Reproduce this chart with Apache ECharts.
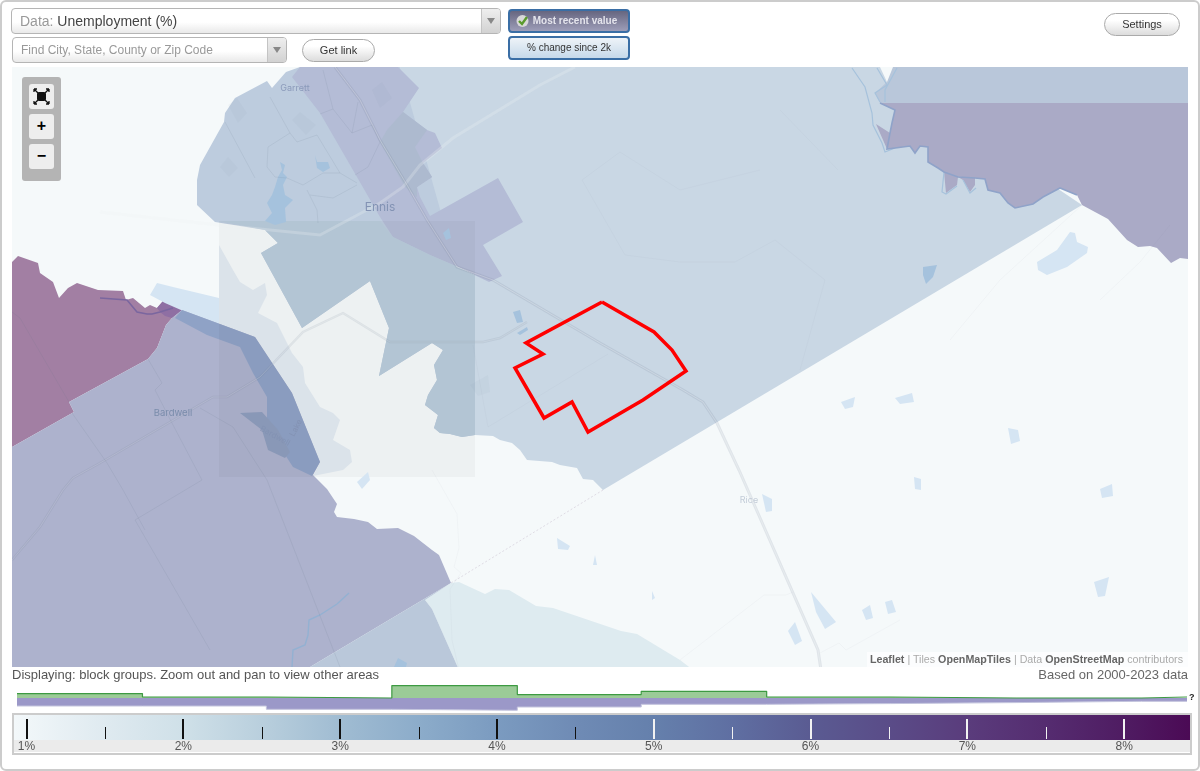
<!DOCTYPE html>
<html>

<head>
    <meta charset="utf-8">
    <title>Unemployment (%)</title>
    <script src="https://cdn.jsdelivr.net/npm/echarts@6/dist/echarts.min.js"></script>
    <style>
        html, body { margin: 0; padding: 0; background: #fff; }
        body { width: 1200px; height: 771px; position: relative; overflow: hidden; font-family: "Liberation Sans", Arial, sans-serif; }
        #main { position: absolute; left: 0; top: 0; width: 1200px; height: 771px; }
        .ui { position: absolute; box-sizing: border-box; white-space: nowrap; }
        .frame { left: 0; top: 0; width: 1200px; height: 771px; border: 2px solid #ccc; border-radius: 6px; pointer-events: none; }
        .select { border: 1px solid #b5b5b5; border-radius: 4px; background: linear-gradient(#fff 55%, #e9e9e9); color: #999; padding-left: 8px; }
        .select .arrow { position: absolute; right: 0; top: 0; bottom: 0; width: 18px; border-left: 1px solid #c4c4c4; background: linear-gradient(#eee, #d2d2d2); border-radius: 0 3px 3px 0; }
        .select .arrow:after { content: ""; position: absolute; left: 5px; top: 9px; border: 4px solid transparent; border-top: 6px solid #888; }
        .pill { border: 1px solid #aaa; border-radius: 12px; background: linear-gradient(#fff 30%, #dcdcdc); color: #333; font-size: 11px; text-align: center; }
        .toggle { border: 2px solid #3a6ea5; border-radius: 4px; font-size: 10px; text-align: center; left: 508px; width: 122px; }
        .zoombox { left: 22px; top: 77px; width: 39px; height: 104px; background: #b4b4b4; border-radius: 3px; }
        .zoombtn { left: 7px; width: 25px; height: 25px; background: #eee; border-radius: 3px; color: #000; font-weight: bold; font-size: 16px; line-height: 24px; text-align: center; }
    </style>
</head>

<body>
    <div id="main"></div>

    <div class="ui frame"></div>
    <div class="ui select" style="left:11px;top:8px;width:490px;height:26px;font-size:14px;line-height:24px;">Data: <span style="color:#444">Unemployment (%)</span><div class="arrow"></div></div>
    <div class="ui select" style="left:12px;top:37px;width:275px;height:26px;font-size:12px;line-height:24px;">Find City, State, County or Zip Code<div class="arrow"></div></div>
    <div class="ui pill" style="left:302px;top:39px;width:73px;height:23px;line-height:21px;">Get link</div>
    <div class="ui toggle" style="top:9px;height:24px;line-height:19px;background:linear-gradient(#666680,#9d9db8);color:#e4e4ec;font-weight:bold;padding-left:12px;">Most recent value
        <svg style="position:absolute;left:6px;top:3px" width="13" height="14" viewBox="0 0 13 14"><circle cx="6.5" cy="7" r="6" fill="#d8d8d8"/><path d="M3 7l3 3 5-7" stroke="#5a9a2c" stroke-width="2.4" fill="none"/></svg>
    </div>
    <div class="ui toggle" style="top:36px;height:24px;line-height:19px;background:linear-gradient(#eef3f8,#c6d9ea);color:#333;">% change since 2k</div>
    <div class="ui pill" style="left:1104px;top:13px;width:76px;height:23px;line-height:21px;">Settings</div>

    <div class="ui zoombox">
        <div class="ui zoombtn" style="top:7px;">
            <svg width="25" height="25" viewBox="0 0 25 25"><rect x="8" y="8" width="9" height="9" rx="2" fill="#111"/><path d="M5 5l4 4M20 5l-4 4M5 20l4-4M20 20l-4-4M5 5h3M5 5v3M20 5h-3M20 5v3M5 20h3M5 20v-3M20 20h-3M20 20v-3" stroke="#111" stroke-width="1.3" fill="none"/></svg>
        </div>
        <div class="ui zoombtn" style="top:37px;">+</div>
        <div class="ui zoombtn" style="top:67px;">−</div>
    </div>

    <div class="ui" style="right:12px;top:652px;height:15px;padding:0 5px 0 3px;background:rgba(255,255,255,.7);font-size:10.7px;line-height:15px;color:#aaa;">
        <b style="color:#666">Leaflet</b> | Tiles <b style="color:#666">OpenMapTiles</b> | Data <b style="color:#666">OpenStreetMap</b> contributors
    </div>
    <div class="ui" style="left:12px;top:668px;font-size:13px;line-height:14px;color:#555;">Displaying: block groups. Zoom out and pan to view other areas</div>
    <div class="ui" style="right:12px;top:668px;font-size:13px;line-height:14px;color:#666;">Based on 2000-2023 data</div>
    <div class="ui" style="left:1189px;top:692px;font-size:9px;font-weight:bold;line-height:10px;color:#222;">?</div>

    <script>
        // histogram under the map: bin edges in %, share of areas for the view and for the whole country
        var binEdges = [0.94, 1.74, 2.53, 3.33, 4.13, 4.92, 5.72, 6.51, 7.31, 8.11, 8.4];
        var greenShare = [4.4, 1, 0, 12.4, 3.4, 6.7, 1, 0, 0, 1];
        var purpleShare = [8, 8, 11.3, 12.3, 9, 6.3, 5.6, 4.6, 3.3, 3.3];

        // colour scale
        var majorTicks = [1, 2, 3, 4, 5, 6, 7, 8];
        var minorTicks = [1.5, 2.5, 3.5, 4.5, 5.5, 6.5, 7.5];
        var rampValues = [0.92, 1.5, 2, 2.5, 3, 3.5, 4, 4.5, 5, 5.5, 6, 6.5, 7, 7.5, 8, 8.42];
        var rampColors = ['#f3f8fa', '#dfeaf0', '#cfe0e8', '#b9cfdd', '#a0bcd2', '#8cacca', '#7b9bc0', '#6f8bb5',
            '#6580ac', '#5f6fa2', '#5a5b92', '#5a4c88', '#5a3c7c', '#552c70', '#4f1c62', '#4b0a55'];

        // map shapes
        var regionEast = [[400, 67], [880, 67], [900, 110], [1000, 150], [1082, 205], [603, 490], [593, 480], [583, 479], [577, 468], [560, 465], [552, 462], [527, 460], [520, 450], [512, 443], [500, 440], [493, 436], [475, 435], [475, 270], [420, 200]];
        var regionNorthEast = [[893, 67], [1188, 67], [1188, 103], [880, 103], [875, 93], [887, 82]];
        var regionRiverEast = [[880, 103], [1188, 103], [1188, 259], [1180, 258], [1171, 263], [1157, 248], [1150, 246], [1138, 247], [1127, 240], [1108, 219], [1082, 205], [1077, 195], [1060, 188], [1043, 197], [1033, 204], [1015, 208], [1008, 203], [1000, 193], [988, 190], [985, 179], [975, 178], [975, 185], [970, 192], [963, 180], [958, 177], [957, 185], [946, 193], [944, 172], [938, 168], [928, 162], [928, 147], [920, 146], [915, 153], [910, 146], [887, 149], [876, 124], [890, 133], [892, 123], [895, 110]];
        var regionWestEnnis = [[267, 81], [272, 88], [286, 72], [300, 67], [400, 67], [460, 280], [475, 290], [475, 435], [462, 437], [450, 434], [440, 433], [434, 428], [438, 415], [425, 405], [428, 395], [437, 380], [434, 365], [443, 350], [432, 343], [379, 376], [389, 328], [370, 281], [302, 328], [261, 253], [278, 243], [265, 230], [215, 222], [197, 205], [197, 180], [200, 165], [224, 122], [225, 113], [235, 98]];
        var regionWestInSquare = [[219, 221], [380, 221], [393, 237], [430, 255], [458, 267], [475, 275], [475, 435], [462, 437], [450, 434], [440, 433], [434, 428], [438, 415], [425, 405], [428, 395], [437, 380], [434, 365], [443, 350], [432, 343], [379, 376], [389, 328], [370, 281], [302, 328], [261, 253], [278, 243], [265, 230]];
        var regionEnnis = [[292, 77], [300, 67], [398, 67], [419, 88], [403, 112], [427, 130], [435, 133], [442, 148], [423, 163], [432, 177], [417, 187], [420, 197], [430, 216], [498, 178], [523, 222], [483, 245], [502, 276], [489, 282], [458, 267], [430, 255], [393, 237], [380, 217], [357, 177], [320, 113]];
        var regionEnnisGrey = [[403, 112], [387, 130], [380, 142], [405, 187], [417, 197], [417, 187], [432, 177], [423, 163], [415, 147], [427, 130]];
        var regionNorthWest = [[12, 262], [18, 256], [38, 263], [40, 273], [53, 282], [59, 298], [68, 288], [77, 283], [98, 290], [123, 291], [126, 300], [133, 298], [145, 308], [150, 305], [157, 308], [163, 301], [173, 302], [182, 310], [172, 318], [166, 325], [157, 348], [148, 359], [69, 402], [74, 412], [12, 447]];
        var tipNorthWest = [[157, 308], [163, 301], [173, 302], [182, 310], [172, 318], [165, 316], [160, 312]];
        var regionBardwell = [[182, 310], [255, 337], [292, 393], [320, 462], [313, 475], [327, 489], [337, 504], [334, 512], [337, 517], [354, 519], [368, 522], [377, 529], [398, 528], [414, 536], [432, 550], [439, 555], [451, 583], [310, 667], [12, 667], [12, 447], [74, 412], [69, 402], [148, 359], [157, 348], [166, 325], [172, 318]];
        var lakeBandOuter = [[182, 310], [255, 337], [292, 393], [320, 462], [312, 476], [293, 467], [280, 447], [267, 420], [267, 397], [253, 373], [240, 347], [207, 335], [175, 318]];
        var lakeBardwellArm = [[240, 413], [262, 412], [278, 430], [290, 452], [285, 458], [268, 450], [262, 430]];
        var lakeNorth = [[150, 295], [157, 283], [173, 287], [219, 298], [219, 327], [181, 310], [165, 303]];
        var paleShore = [[219, 245], [233, 270], [240, 282], [253, 290], [265, 283], [267, 295], [258, 313], [277, 323], [292, 353], [303, 367], [305, 383], [320, 407], [333, 413], [340, 420], [333, 440], [350, 450], [352, 462], [343, 470], [313, 476], [320, 462], [292, 393], [255, 337], [219, 325]];
        var regionSouth = [[425, 600], [432, 609], [459, 670], [305, 670], [451, 583]];
        var regionSouthPale = [[425, 600], [451, 583], [459, 582], [485, 594], [495, 589], [509, 590], [536, 606], [553, 608], [621, 631], [637, 634], [680, 660], [693, 670], [459, 670], [432, 609]];
        var tintSquare = [[219, 221], [475, 221], [475, 477], [219, 477]];
        var tractOutline = [[602, 302], [654, 332], [672, 350], [686, 371], [643, 400], [588, 432], [572, 402], [544, 418], [515, 368], [543, 354], [526, 343], [602, 302]];

        var lakesDark = [
            [[280, 162], [285, 165], [283, 173], [287, 177], [283, 185], [285, 195], [293, 200], [285, 208], [286, 222], [275, 225], [265, 221], [272, 213], [267, 203], [272, 195], [275, 187], [278, 177], [282, 170]],
            [[315, 155], [317, 162], [328, 162], [330, 168], [323, 172], [317, 168]],
            [[513, 312], [520, 310], [523, 322], [517, 323]],
            [[517, 333], [527, 327], [528, 330], [520, 335]],
            [[923, 267], [937, 265], [933, 277], [926, 284], [923, 275]],
            [[394, 667], [398, 658], [407, 663], [406, 667]],
            [[443, 233], [449, 228], [451, 238], [446, 240]]
        ];
        var lakesLight = [
            [[557, 538], [570, 546], [568, 550], [558, 549]],
            [[595, 555], [597, 565], [593, 565]],
            [[652, 591], [655, 598], [652, 600]],
            [[762, 494], [772, 499], [772, 511], [766, 512]],
            [[811, 592], [836, 622], [825, 629], [816, 612]],
            [[795, 622], [802, 641], [795, 645], [788, 631]],
            [[368, 472], [370, 480], [362, 489], [357, 482]],
            [[1037, 262], [1057, 250], [1070, 232], [1075, 233], [1077, 242], [1088, 247], [1087, 253], [1067, 267], [1047, 275], [1038, 270]],
            [[841, 402], [855, 397], [853, 407], [845, 409]],
            [[895, 398], [912, 393], [914, 402], [900, 404]],
            [[1008, 428], [1018, 430], [1020, 441], [1011, 444]],
            [[1100, 489], [1112, 484], [1113, 496], [1102, 498]],
            [[914, 477], [921, 479], [921, 490], [915, 489]],
            [[1094, 582], [1109, 577], [1105, 596], [1098, 597]],
            [[885, 602], [892, 600], [896, 612], [888, 614]],
            [[862, 610], [870, 605], [873, 618], [866, 620]]
        ];
        var parks = [
            [[228, 105], [237, 98], [247, 113], [238, 123]],
            [[220, 167], [228, 157], [238, 168], [229, 177]],
            [[292, 120], [300, 112], [316, 125], [306, 135]],
            [[372, 90], [382, 82], [392, 98], [380, 108]],
            [[470, 385], [488, 375], [490, 392], [478, 396]]
        ];

        var roadInterstate = [[335, 67], [360, 100], [380, 140], [407, 185], [427, 220], [457, 267], [493, 280], [600, 343], [683, 390], [703, 402], [717, 423], [739, 470], [818, 650], [821, 670]];
        var roadEnnis = [[575, 67], [540, 85], [453, 138], [420, 165], [403, 187], [380, 203], [320, 235], [200, 223], [100, 212]];
        var roadBardwell = [[12, 560], [40, 527], [63, 490], [73, 478], [100, 463], [213, 397], [227, 397], [260, 377], [303, 332], [343, 313], [390, 342], [483, 342], [500, 338], [527, 322]];
        var linesInDistricts = [
            [[148, 359], [162, 383], [155, 390], [173, 425], [202, 480], [135, 520], [210, 650]],
            [[72, 413], [107, 463], [123, 490], [145, 530]],
            [[200, 408], [233, 427], [267, 480], [340, 667]],
            [[12, 312], [20, 318], [69, 402]],
            [[225, 122], [255, 178]],
            [[270, 97], [290, 133], [268, 147], [267, 167], [275, 177], [287, 178], [303, 185], [323, 173], [340, 173], [357, 183]],
            [[290, 133], [297, 142], [317, 135], [340, 173]],
            [[307, 190], [317, 210], [318, 223]],
            [[310, 195], [333, 198], [357, 185]],
            [[320, 114], [333, 109], [352, 133], [372, 125], [380, 142], [368, 167], [355, 175]],
            [[323, 70], [333, 109]],
            [[352, 133], [358, 102]]
        ];
        var linesFaint = [
            [[473, 345], [488, 427], [608, 354]],
            [[582, 180], [620, 152], [680, 190], [760, 170]],
            [[582, 180], [625, 255], [680, 262], [735, 262], [775, 240], [825, 280], [800, 370]],
            [[780, 110], [838, 170]],
            [[432, 470], [457, 514], [459, 548], [454, 567], [461, 573], [450, 589], [452, 640], [459, 670]],
            [[764, 595], [786, 595], [793, 592]],
            [[764, 595], [680, 660]],
            [[820, 653], [839, 643], [846, 650], [900, 620]],
            [[1082, 205], [1000, 280], [950, 340]],
            [[1170, 225], [1140, 262], [1100, 300]]
        ];
        var riverEastBank = [[880, 103], [895, 110], [892, 123], [890, 133], [887, 149], [910, 146], [915, 153], [920, 146], [928, 147], [928, 162], [938, 168], [944, 172], [958, 177], [975, 178], [985, 179], [988, 190], [1000, 193], [1008, 203], [1015, 208], [1033, 204], [1043, 197], [1060, 188], [1077, 195]];
        var riverPaleA = [[852, 68], [865, 87], [872, 113], [873, 125], [882, 143], [885, 152], [895, 148]];
        var riverPaleB = [[877, 68], [887, 85], [875, 93], [880, 102]];
        var riverPaleC = [[897, 68], [885, 90], [885, 102]];
        var riverPaleD = [[944, 172], [942, 192], [946, 194], [957, 186]];
        var riverPaleE = [[963, 180], [970, 193], [976, 188]];
        var streamSouth = [[349, 593], [337, 604], [320, 615], [309, 620], [308, 635], [305, 645], [293, 650], [292, 667]];
        var shoreWest = [[100, 298], [127, 300], [137, 312], [147, 314], [152, 314], [160, 312], [173, 308]];
        var diagonalBorder = [[603, 490], [451, 583]];

        var labelNames = ['Garrett', 'Ennis', 'Bardwell', 'Bardwell', 'Lake', 'Rice'];
        var labelPoints = [[295, 88], [380, 207], [173, 413], [275, 436], [296, 428], [749, 500]];

        // draw order of the map, bottom to top
        var mapLayers = [
            { ring: regionEast, fill: '#c9d7e4' },
            { ring: regionNorthEast, fill: '#b9c7da' },
            { ring: regionRiverEast, fill: '#aaaac6' },
            { line: riverPaleA, stroke: '#a6c2dc', width: 1.2 },
            { line: riverPaleB, stroke: '#a6c2dc', width: 1.2 },
            { line: riverPaleC, stroke: '#a6c2dc', width: 1.2 },
            { line: riverPaleD, stroke: '#a6c2dc', width: 1.2 },
            { line: riverPaleE, stroke: '#a6c2dc', width: 1.2 },
            { line: riverEastBank, stroke: '#8fa3c9', width: 1.6 },
            { ring: regionWestEnnis, fill: '#bdccde' },
            { ring: regionEnnis, fill: '#b4bcd6' },
            { ring: regionEnnisGrey, fill: '#adbacf' },
            { ring: regionNorthWest, fill: '#a27fa3' },
            { ring: tipNorthWest, fill: '#8f6fa3' },
            { ring: lakeNorth, fill: '#d5e5f3' },
            { ring: paleShore, fill: '#e3ebf2' },
            { ring: regionBardwell, fill: '#adb2cd' },
            { ring: lakeBandOuter, fill: '#8fa2c6' },
            { ring: lakeBardwellArm, fill: '#8e9dbd' },
            { ring: regionSouthPale, fill: '#deebf0' },
            { ring: regionSouth, fill: '#bac8da' },
            { line: streamSouth, stroke: '#93b1d2', width: 1.4 },
            { line: shoreWest, stroke: '#7a669f', width: 1.5 },
            { ring: tintSquare, fill: 'rgba(0,0,0,0.033)' },
            { ring: regionWestInSquare, fill: '#b3c5d4' }
        ];
        parks.forEach(function (ring) {
            mapLayers.push({ ring: ring, fill: 'rgba(120,135,150,0.05)' });
        });
        lakesLight.forEach(function (ring) {
            mapLayers.push({ ring: ring, fill: '#d5e5f3' });
        });
        lakesDark.forEach(function (ring) {
            mapLayers.push({ ring: ring, fill: '#a5c2dd' });
        });
        linesInDistricts.forEach(function (line) {
            mapLayers.push({ line: line, stroke: 'rgba(90,105,130,0.14)', width: 0.8 });
        });
        linesFaint.forEach(function (line) {
            mapLayers.push({ line: line, stroke: 'rgba(90,105,130,0.05)', width: 0.8 });
        });
        mapLayers.push({ line: diagonalBorder, stroke: 'rgba(200,190,205,0.5)', width: 1, dash: [2, 2] });
        mapLayers.push({ line: roadEnnis, stroke: 'rgba(240,245,245,0.25)', width: 3 });
        mapLayers.push({ line: roadBardwell, stroke: 'rgba(110,125,150,0.14)', width: 2.4 });
        mapLayers.push({ line: roadBardwell, stroke: 'rgba(255,255,255,0.15)', width: 1 });
        mapLayers.push({ line: roadInterstate, stroke: 'rgba(110,125,150,0.16)', width: 3 });
        mapLayers.push({ line: roadInterstate, stroke: 'rgba(255,255,255,0.25)', width: 1 });
        mapLayers.push({ line: tractOutline, stroke: '#ff0000', width: 3.5 });

        var labelStyles = [
            { font: '9px "Inter", sans-serif', fill: '#8b9aba', rotation: 0 },
            { font: '12px "Inter", sans-serif', fill: '#8393b4', rotation: 0 },
            { font: '9.5px "Inter", sans-serif', fill: '#7a8cab', rotation: 0 },
            { font: '8px "Inter", sans-serif', fill: '#8392b3', rotation: -0.5 },
            { font: '8px "Inter", sans-serif', fill: '#8392b3', rotation: 1.1 },
            { font: '9px "Inter", sans-serif', fill: '#c3ccd8', rotation: 0 }
        ];

        function renderMapLayer(params, api) {
            var layer = mapLayers[api.value(0)];
            var points = (layer.ring || layer.line).map(function (p) {
                return api.coord(p);
            });
            if (layer.ring) {
                return { type: 'polygon', shape: { points: points }, style: { fill: layer.fill, stroke: null }, silent: true };
            }
            return {
                type: 'polyline',
                shape: { points: points },
                style: { fill: null, stroke: layer.stroke, lineWidth: layer.width, lineDash: layer.dash || null, lineJoin: 'miter' },
                silent: true
            };
        }

        function renderMapLabel(params, api) {
            var i = api.value(0);
            var pos = api.coord(labelPoints[i]);
            var st = labelStyles[i];
            return {
                type: 'text',
                x: pos[0],
                y: pos[1],
                rotation: st.rotation,
                style: { text: labelNames[i], font: st.font, fill: st.fill, align: 'center', verticalAlign: 'middle' },
                silent: true
            };
        }

        // step outlines for the histogram: one value per edge, the last bin's value repeated at the end
        function stepData(values, sign) {
            return binEdges.map(function (edge, i) {
                return [edge, sign * values[Math.min(i, values.length - 1)]];
            });
        }

        function renderRamp(params, api) {
            var stops = rampValues.map(function (v, i) {
                return { offset: (v - rampValues[0]) / (rampValues[rampValues.length - 1] - rampValues[0]), color: rampColors[i] };
            });
            return {
                type: 'group',
                silent: true,
                children: [
                    { type: 'rect', shape: { x: 14, y: 740, width: 1176, height: 12 }, style: { fill: '#ebebeb' } },
                    { type: 'rect', shape: { x: 14, y: 715, width: 1176, height: 25 }, style: { fill: new echarts.graphic.LinearGradient(0, 0, 1, 0, stops) } }
                ]
            };
        }

        function renderTick(params, api) {
            var value = api.value(0);
            var isMajor = api.value(1) === 1;
            var top = api.coord([value, isMajor ? 4 : 12]);
            var bottom = api.coord([value, 24]);
            var color = value < 4.6 ? '#111' : '#f2f2f2';
            var children = [{
                type: 'rect',
                shape: { x: Math.round(top[0]) - (isMajor ? 1 : 0), y: top[1], width: isMajor ? 2 : 1, height: bottom[1] - top[1] },
                style: { fill: color }
            }];
            if (isMajor) {
                children.push({
                    type: 'text',
                    x: top[0],
                    y: api.coord([value, 32])[1],
                    style: { text: value + '%', font: '12px "Liberation Sans", Arial, sans-serif', fill: '#555', align: 'center', verticalAlign: 'middle' }
                });
            }
            return { type: 'group', silent: true, children: children };
        }

        var tickData = majorTicks.map(function (v) { return [v, 1]; })
            .concat(minorTicks.map(function (v) { return [v, 0]; }));

        var chartDom = document.getElementById('main');
        var myChart = echarts.init(chartDom, null, { renderer: 'canvas' });
        var option = {
            animation: false,
            backgroundColor: 'transparent',
            grid: [
                { left: 12, top: 67, width: 1176, height: 600 },
                { left: 17, top: 684, width: 1170, height: 28 },
                { left: 14, top: 715, width: 1176, height: 37 }
            ],
            xAxis: [
                { gridIndex: 0, type: 'value', min: 12, max: 1188, show: false },
                { gridIndex: 1, type: 'value', min: 0.94, max: 8.4, show: false },
                { gridIndex: 2, type: 'value', min: 0.92, max: 8.42, show: false }
            ],
            yAxis: [
                { gridIndex: 0, type: 'value', min: 67, max: 667, inverse: true, show: false },
                { gridIndex: 1, type: 'value', min: -14, max: 14, show: false },
                { gridIndex: 2, type: 'value', min: 0, max: 37, inverse: true, show: false }
            ],
            graphic: [
                { type: 'rect', z: -10, shape: { x: 12, y: 67, width: 1176, height: 600 }, style: { fill: '#f5f9fa' }, silent: true },
                { type: 'rect', z: -10, shape: { x: 13, y: 714, width: 1178, height: 40 }, style: { fill: '#fff', stroke: '#ccc', lineWidth: 2 }, silent: true }
            ],
            series: [
                {
                    type: 'custom', name: 'map', xAxisIndex: 0, yAxisIndex: 0, clip: true, silent: true,
                    renderItem: renderMapLayer,
                    data: mapLayers.map(function (l, i) { return [i]; })
                },
                {
                    type: 'custom', name: 'labels', xAxisIndex: 0, yAxisIndex: 0, clip: true, silent: true, z: 5,
                    renderItem: renderMapLabel,
                    data: labelNames.map(function (n, i) { return [i]; })
                },
                {
                    type: 'line', name: 'Whole country', xAxisIndex: 1, yAxisIndex: 1, step: 'end', showSymbol: false, silent: true,
                    lineStyle: { color: '#c3c4dd', width: 1 },
                    areaStyle: { color: '#9b98c8', opacity: 1, origin: 0 },
                    data: stepData(purpleShare, -1)
                },
                {
                    type: 'line', name: 'This view', xAxisIndex: 1, yAxisIndex: 1, step: 'end', showSymbol: false, silent: true,
                    lineStyle: { color: '#3d9a42', width: 1.2 },
                    areaStyle: { color: '#9bcb97', opacity: 1, origin: 0 },
                    data: stepData(greenShare, 1)
                },
                {
                    type: 'custom', name: 'ramp', xAxisIndex: 2, yAxisIndex: 2, clip: false, silent: true,
                    renderItem: renderRamp,
                    data: [[0]]
                },
                {
                    type: 'custom', name: 'ticks', xAxisIndex: 2, yAxisIndex: 2, clip: false, silent: true, z: 5,
                    renderItem: renderTick,
                    data: tickData
                }
            ]
        };
        option && myChart.setOption(option);
    </script>
</body>

</html>
